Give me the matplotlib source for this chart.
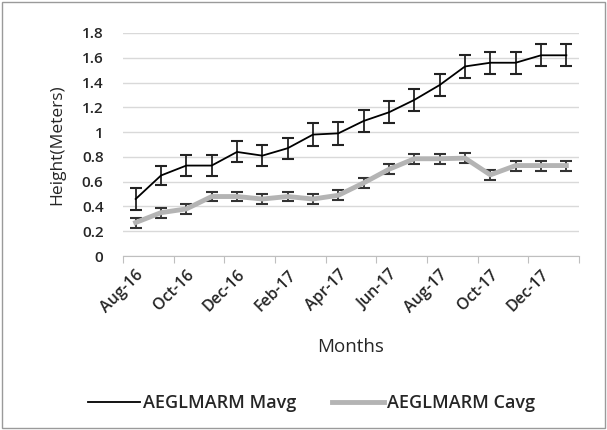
import numpy as np
import matplotlib
matplotlib.use("Agg")
import matplotlib.pyplot as plt
from matplotlib.patches import Rectangle
from matplotlib.lines import Line2D

plt.rcParams["font.family"] = ["Open Sans", "DejaVu Sans"]
plt.rcParams["font.weight"] = "semibold"

months = ["Aug-16", "Sep-16", "Oct-16", "Nov-16", "Dec-16", "Jan-17",
          "Feb-17", "Mar-17", "Apr-17", "May-17", "Jun-17", "Jul-17",
          "Aug-17", "Sep-17", "Oct-17", "Nov-17", "Dec-17", "Jan-18"]
mavg = [0.46, 0.65, 0.73, 0.73, 0.84, 0.81, 0.87, 0.98, 0.99, 1.09,
        1.16, 1.26, 1.38, 1.53, 1.56, 1.56, 1.62, 1.62]
mavg_err = [0.09, 0.08, 0.085, 0.085, 0.085, 0.085, 0.085, 0.09, 0.09, 0.09,
            0.09, 0.09, 0.09, 0.09, 0.09, 0.09, 0.09, 0.09]
cavg = [0.27, 0.35, 0.38, 0.48, 0.48, 0.46, 0.48, 0.46, 0.49, 0.59,
        0.70, 0.785, 0.785, 0.79, 0.655, 0.73, 0.73, 0.73]
cavg_err = [0.04] * len(cavg)

x = np.arange(len(months))
text_col = "#262626"

fig = plt.figure(figsize=(6.07, 4.30), dpi=100)
ax = fig.add_axes([123 / 607, 1 - 256 / 430, (579 - 123) / 607, (256 - 33) / 430])

ax.errorbar(x, cavg, yerr=cavg_err, color="#b4b4b4", lw=3.5, ecolor="#333333",
            elinewidth=1.3, capsize=4, capthick=1.5, zorder=3)
ax.errorbar(x, mavg, yerr=mavg_err, color="black", lw=1.3, ecolor="#222222",
            elinewidth=1.3, capsize=4, capthick=1.5, zorder=4)

ax.set_xlim(-0.5, len(months) - 0.5)
ax.set_ylim(0, 1.8)
ax.set_yticks(np.arange(0, 1.81, 0.2))
ax.set_yticklabels(["0", "0.2", "0.4", "0.6", "0.8", "1", "1.2", "1.4", "1.6", "1.8"])
ax.yaxis.grid(True, color="#d9d9d9", lw=1)
ax.set_axisbelow(True)
ax.tick_params(axis="y", length=0, labelsize=11, pad=14, labelcolor=text_col)

ax.set_xticks(np.arange(-0.5, len(months), 2))
ax.set_xticklabels([])
ax.set_xticks(x[::2], minor=True)
ax.set_xticklabels(months[::2], minor=True, rotation=45, ha="right",
                   rotation_mode="anchor", fontsize=11.5, color=text_col)
ax.tick_params(axis="x", which="major", length=5, color="#bfbfbf", direction="out")
ax.tick_params(axis="x", which="minor", length=0, pad=8)

for s in ["left", "right", "top"]:
    ax.spines[s].set_visible(False)
ax.spines["bottom"].set_color("#bfbfbf")

ax.set_ylabel("Height(Meters)", fontsize=12.5, labelpad=12, color=text_col,
              fontweight="normal")
ax.set_xlabel("Months", fontsize=13.5, labelpad=16, color=text_col)

handles = [Line2D([], [], color="black", lw=1.3),
           Line2D([], [], color="#b4b4b4", lw=3.5)]
labels = ["AEGLMARM Mavg", "AEGLMARM Cavg"]
fig.legend(handles, labels, loc="center", bbox_to_anchor=(0.513, 1 - 403 / 430),
           ncol=2, frameon=False, fontsize=13, handlelength=2.9, columnspacing=2.0,
           handletextpad=0.15, labelcolor=text_col)

fig.patches.append(Rectangle((0.004, 0.004), 0.992, 0.992, transform=fig.transFigure,
                             fill=False, edgecolor="#9a9a9a", lw=1))

fig.savefig("out.png", dpi=100)
